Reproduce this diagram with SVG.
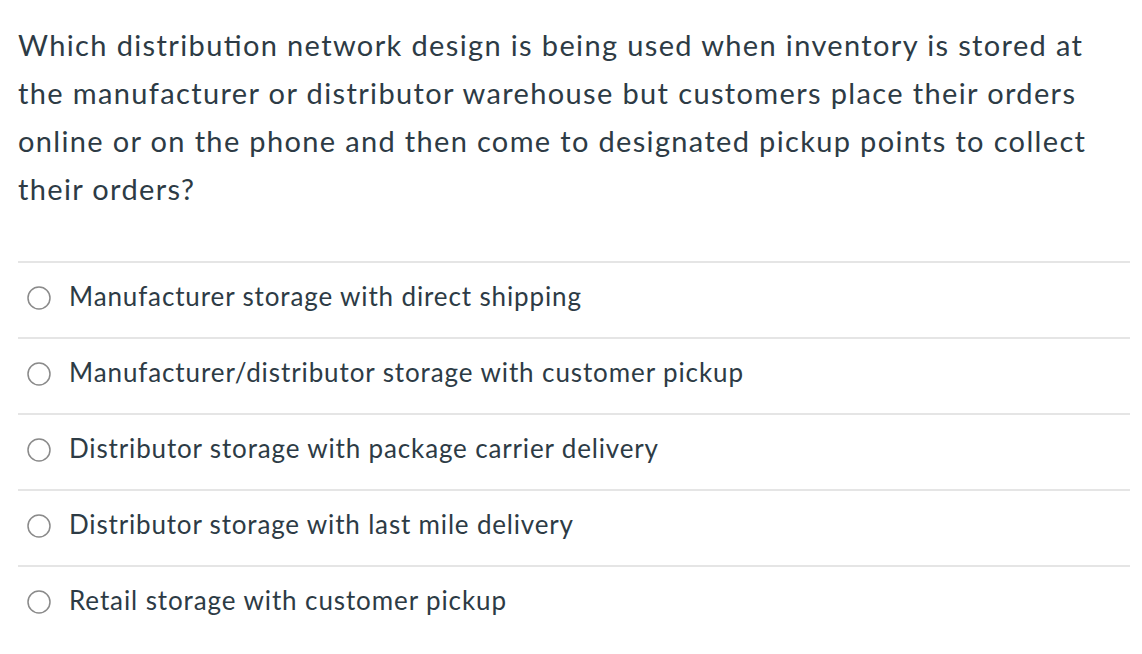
<svg xmlns="http://www.w3.org/2000/svg" width="1142" height="654" viewBox="0 0 1142 654">
<style>
.q{font-family:Lato,"Liberation Sans",sans-serif;font-size:29px;fill:#2d3b45}
.o{font-family:Lato,"Liberation Sans",sans-serif;font-size:26px;fill:#2d3b45}
.sep{stroke:#dcdcdc;stroke-width:1.5}
.r{fill:#fff;stroke:#8a8a8a;stroke-width:1.5}
</style>
<rect width="1142" height="654" fill="#fff"/>
<g id="question">
<text class="q" x="18" y="56" textLength="1064" lengthAdjust="spacing">Which distribution network design is being used when inventory is stored at</text>
<text class="q" x="18" y="104" textLength="1057" lengthAdjust="spacing">the manufacturer or distributor warehouse but customers place their orders</text>
<text class="q" x="18" y="152" textLength="1067" lengthAdjust="spacing">online or on the phone and then come to designated pickup points to collect</text>
<text class="q" x="18" y="200" textLength="176" lengthAdjust="spacing">their orders?</text>
</g>
<g id="separators">
<line class="sep" x1="18" y1="262" x2="1130" y2="262"/>
<line class="sep" x1="18" y1="338" x2="1130" y2="338"/>
<line class="sep" x1="18" y1="414" x2="1130" y2="414"/>
<line class="sep" x1="18" y1="490" x2="1130" y2="490"/>
<line class="sep" x1="18" y1="566" x2="1130" y2="566"/>
</g>
<g id="opt1"><circle class="r" cx="39" cy="298" r="11"/><text class="o" x="69" y="306" textLength="512" lengthAdjust="spacing">Manufacturer storage with direct shipping</text></g>
<g id="opt2"><circle class="r" cx="39" cy="374" r="11"/><text class="o" x="69" y="382" textLength="674" lengthAdjust="spacing">Manufacturer/distributor storage with customer pickup</text></g>
<g id="opt3"><circle class="r" cx="39" cy="450" r="11"/><text class="o" x="69" y="458" textLength="589" lengthAdjust="spacing">Distributor storage with package carrier delivery</text></g>
<g id="opt4"><circle class="r" cx="39" cy="526" r="11"/><text class="o" x="69" y="534" textLength="504" lengthAdjust="spacing">Distributor storage with last mile delivery</text></g>
<g id="opt5"><circle class="r" cx="39" cy="602" r="11"/><text class="o" x="69" y="610" textLength="437" lengthAdjust="spacing">Retail storage with customer pickup</text></g>
</svg>
